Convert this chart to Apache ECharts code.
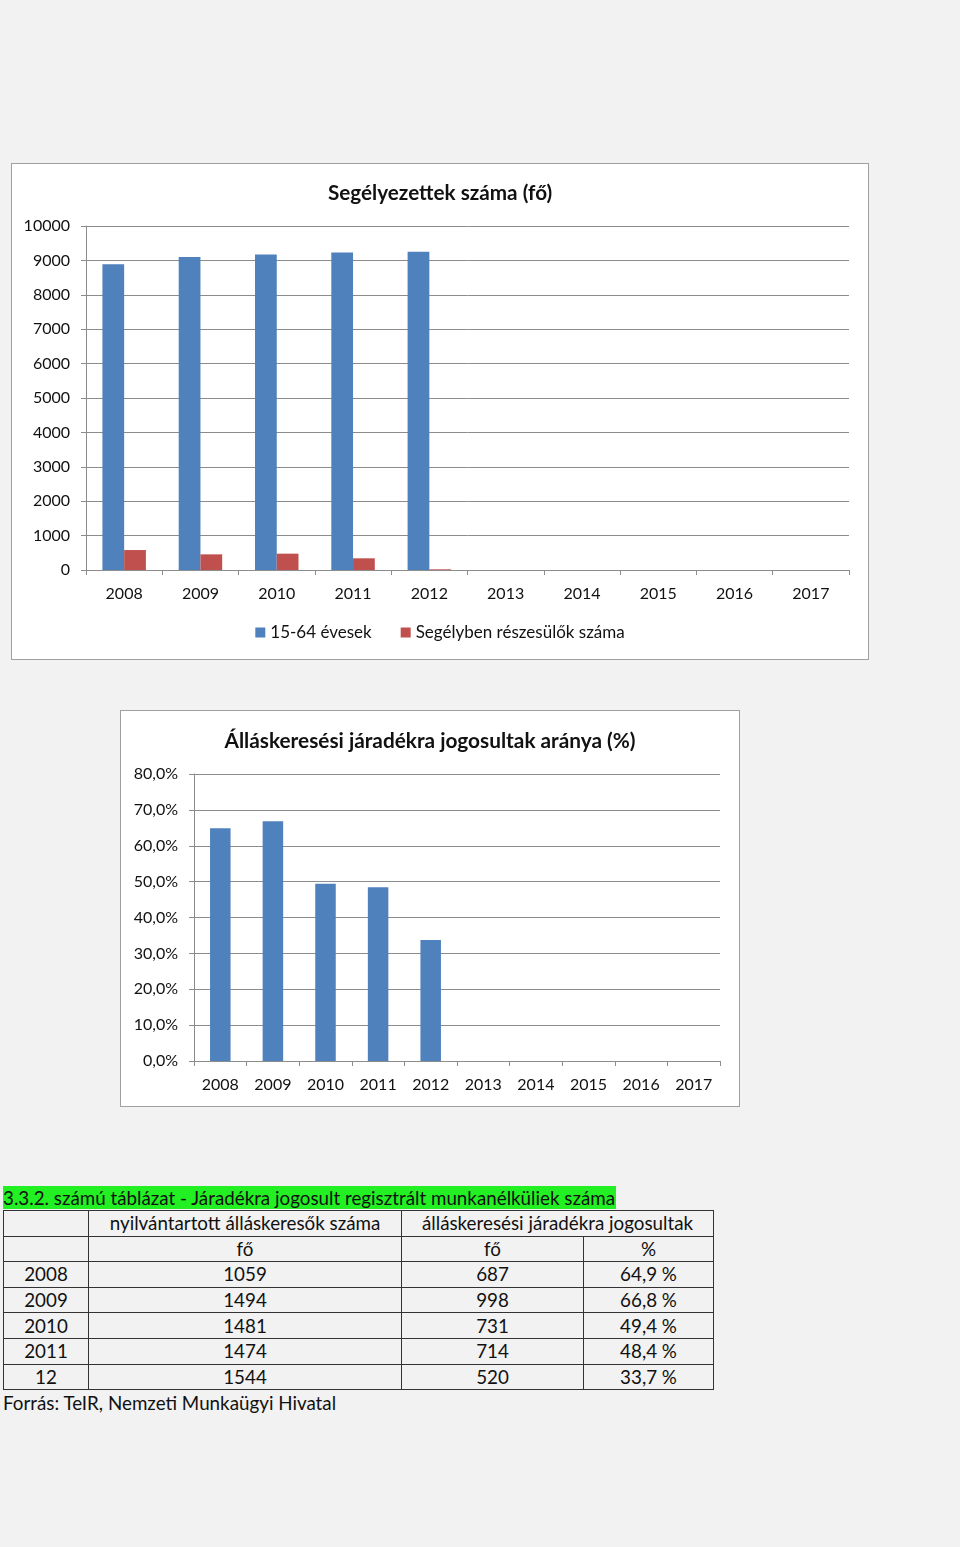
<!DOCTYPE html>
<html><head><meta charset="utf-8">
<script src="https://cdn.jsdelivr.net/npm/echarts@6/dist/echarts.min.js"></script>
<style>
html,body{margin:0;padding:0;background:#f2f2f2;width:960px;height:1547px;overflow:hidden;font-family:Lato,"Noto Sans",sans-serif;}
.box{position:absolute;background:#fff;border:1px solid #a0a0a0;box-sizing:border-box;}
#c1{left:11px;top:163px;width:858px;height:497px;}
#c2{left:120px;top:710px;width:620px;height:397px;}
#tblwrap{position:absolute;left:3px;top:1186px;font-size:18.8px;color:#111;}
#cap{background:#22f022;display:inline-block;line-height:23px;height:23px;padding-right:1px;}
table{border-collapse:collapse;margin-top:1px;table-layout:fixed;width:710px;}
td{border:1px solid #333;height:24.6px;padding:0;text-align:center;line-height:24px;white-space:nowrap;}
#src{line-height:26px;}
</style></head><body>
<div id="c1" class="box"></div>
<div id="c2" class="box"></div>
<div id="tblwrap"><div id="cap"></div><table id="tbl"></table><div id="src"></div></div>
<script>
const years = ['2008','2009','2010','2011','2012','2013','2014','2015','2016','2017'];
const s1Name = '15-64 évesek';
const s2Name = 'Segélyben részesülők száma';
const s1Values = [8890, 9100, 9170, 9230, 9250, null, null, null, null, null];
const s2Values = [580, 455, 475, 340, 20, null, null, null, null, null];
const ratioValues = [64.9, 66.8, 49.4, 48.4, 33.7, null, null, null, null, null];
const title1 = 'Segélyezettek száma (fő)';
const title2 = 'Álláskeresési járadékra jogosultak aránya (%)';

const tableCaption = '3.3.2. számú táblázat - Járadékra jogosult regisztrált munkanélküliek száma';
const tableHead1 = ['', 'nyilvántartott álláskeresők száma', 'álláskeresési járadékra jogosultak'];
const tableHead2 = ['', 'fő', 'fő', '%'];
const tableYears = ['2008', '2009', '2010', '2011', '12'];
const tableRegistered = ['1059', '1494', '1481', '1474', '1544'];
const tableEntitled = ['687', '998', '731', '714', '520'];
const tablePercent = ['64,9 %', '66,8 %', '49,4 %', '48,4 %', '33,7 %'];
const tableSource = 'Forrás: TeIR, Nemzeti Munkaügyi Hivatal';

const FONT = 'Lato';
const gridLine = {show:true, lineStyle:{color:'#8c8c8c', width:1}};
const axisLn = {show:true, lineStyle:{color:'#8c8c8c', width:1}};
const lbl = {color:'#111', fontSize:16, fontFamily:FONT};

const ch1 = echarts.init(document.getElementById('c1'));
ch1.setOption({
  animation:false,
  title:{text:title1, left:'center', top:14, textStyle:{fontSize:20.7, fontWeight:'bold', fontFamily:FONT, color:'#111'}},
  legend:{bottom:13, left:'center', itemWidth:10, itemHeight:10, itemGap:29, icon:'rect',
    textStyle:{fontSize:17, fontFamily:FONT, color:'#111'}, data:[s1Name, s2Name]},
  grid:{left:74, top:62, right:19, bottom:89},
  xAxis:{type:'category', data:years, axisLine:axisLn, axisTick:{show:true, length:5, lineStyle:{color:'#8c8c8c'}},
    axisLabel:Object.assign({margin:16}, lbl)},
  yAxis:{type:'value', min:0, max:10000, interval:1000, splitLine:gridLine, axisLine:axisLn,
    axisTick:{show:true, length:5, lineStyle:{color:'#8c8c8c'}},
    axisLabel:Object.assign({margin:16, formatter:v=>String(v)}, lbl)},
  series:[
    {name:s1Name, type:'bar', data:s1Values, barGap:'0%', barCategoryGap:'43%', itemStyle:{color:'#4f81bd'}},
    {name:s2Name, type:'bar', data:s2Values, itemStyle:{color:'#c0504d'}}
  ]
});

const ch2 = echarts.init(document.getElementById('c2'));
ch2.setOption({
  animation:false,
  title:{text:title2, left:'center', top:15, textStyle:{fontSize:20.8, fontWeight:'bold', fontFamily:FONT, color:'#111'}},
  grid:{left:73, top:63, right:19, bottom:45},
  xAxis:{type:'category', data:years, axisLine:axisLn, axisTick:{show:true, length:5, lineStyle:{color:'#8c8c8c'}},
    axisLabel:Object.assign({margin:16}, lbl)},
  yAxis:{type:'value', min:0, max:80, interval:10, splitLine:gridLine, axisLine:axisLn,
    axisTick:{show:true, length:5, lineStyle:{color:'#8c8c8c'}},
    axisLabel:Object.assign({margin:16, formatter:v=>v.toFixed(1).replace('.', ',')+'%'}, lbl)},
  series:[{name:title2, type:'bar', data:ratioValues, barCategoryGap:'61%', itemStyle:{color:'#4f81bd'}}]
});

document.getElementById('cap').textContent = tableCaption;
document.getElementById('src').textContent = tableSource;
const widths = [85, 313, 182, 130];
let html = '<colgroup>' + widths.map(w=>'<col style="width:'+w+'px">').join('') + '</colgroup>';
html += '<tr><td></td><td>'+tableHead1[1]+'</td><td colspan="2">'+tableHead1[2]+'</td></tr>';
html += '<tr>' + tableHead2.map(t=>'<td>'+t+'</td>').join('') + '</tr>';
for (let i=0;i<tableYears.length;i++){
  html += '<tr><td>'+tableYears[i]+'</td><td>'+tableRegistered[i]+'</td><td>'+tableEntitled[i]+'</td><td>'+tablePercent[i]+'</td></tr>';
}
document.getElementById('tbl').innerHTML = html;
</script>
</body></html>
